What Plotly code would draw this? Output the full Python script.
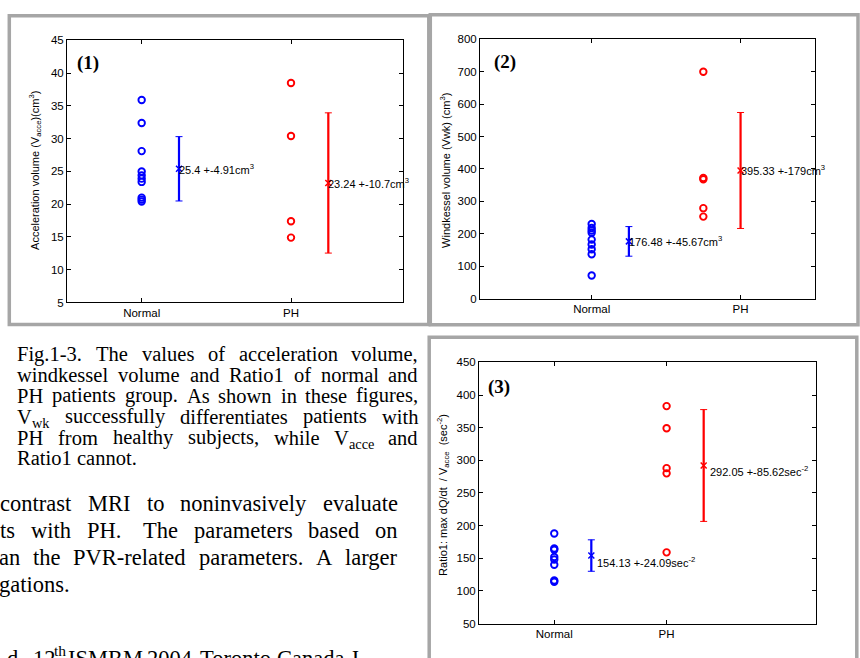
import re
import plotly.graph_objects as go

W, H = 860, 658

# ---------------- data ----------------
groups = ["Normal", "PH"]

# (1) Acceleration volume (cm^3)
acc_normal = [35.9, 32.4, 28.1, 25.0, 24.4, 23.9, 23.4, 21.0, 20.7, 20.4]
acc_ph = [38.5, 30.4, 17.4, 14.9]
acc_mean = [25.4, 23.24]
acc_sd = [4.91, 10.7]
acc_label = ["25.4 +-4.91cm<sup>3</sup>", "23.24 +-10.7cm<sup>3</sup>"]

# (2) Windkessel volume (cm^3)
wk_normal = [230, 218, 210, 203, 182, 167, 152, 137, 71]
wk_ph = [700, 372, 368, 279, 253]
wk_mean = [176.48, 395.33]
wk_sd = [45.67, 179]
wk_label = ["176.48 +-45.67cm<sup>3</sup>", "395.33 +-179cm<sup>3</sup>"]

# (3) Ratio1 (sec^-2)
r1_normal = [188, 165, 163, 152, 148, 140, 116, 114]
r1_ph = [383, 349, 288, 280, 159]
r1_mean = [154.13, 292.05]
r1_sd = [24.09, 85.62]
r1_label = ["154.13 +-24.09sec<sup>-2</sup>", "292.05 +-85.62sec<sup>-2</sup>"]

caption_lines = [
    "Fig.1-3. The values of acceleration volume,",
    "windkessel volume and Ratio1 of normal and",
    "PH patients group. As shown in these figures,",
    "V_wk successfully differentiates patients with",
    "PH from healthy subjects, while V_acce and",
    "Ratio1 cannot.",
]
body_lines = [
    "contrast MRI to noninvasively evaluate",
    "ts with PH.  The parameters based on",
    "an the PVR-related parameters. A larger",
    "gations.",
]

# ---------------- helpers ----------------
def px(x):
    return x / W


def py(y):
    return 1 - y / H


TW = {' ': 250, '(': 333, ')': 333, ',': 250, '-': 333, '.': 250, ':': 278,
      'A': 722, 'B': 667, 'C': 667, 'D': 722, 'E': 611, 'F': 556, 'G': 722, 'H': 722,
      'I': 333, 'J': 389, 'K': 722, 'L': 611, 'M': 889, 'N': 722, 'O': 722, 'P': 556,
      'Q': 722, 'R': 667, 'S': 556, 'T': 611, 'U': 722, 'V': 722, 'W': 944, 'X': 722,
      'Y': 722, 'Z': 611,
      'a': 444, 'b': 500, 'c': 444, 'd': 500, 'e': 444, 'f': 333, 'g': 500, 'h': 500,
      'i': 278, 'j': 278, 'k': 500, 'l': 278, 'm': 778, 'n': 500, 'o': 500, 'p': 500,
      'q': 500, 'r': 333, 's': 389, 't': 278, 'u': 500, 'v': 500, 'w': 722, 'x': 500,
      'y': 500, 'z': 444}


def tw(s, fs):
    return sum(TW.get(c, 500) for c in s) / 1000 * fs


def word_width(w, fs):
    if "_" in w:
        b, s = w.split("_")
        return tw(b, fs) + tw(s, fs * 0.7)
    return tw(w, fs)


SERIF = "Liberation Serif, Times New Roman, serif"
SANS = "Arial, Liberation Sans, sans-serif"

annotations = []


def text_at(x, y, text, fs, family=SERIF, xanchor="left", yshift=0):
    annotations.append(dict(x=px(x), y=py(y), xref="paper", yref="paper", text=text,
                            showarrow=False, xanchor=xanchor, yanchor="middle",
                            borderpad=0, borderwidth=0, yshift=yshift,
                            font=dict(family=family, size=fs, color="black")))


def put_word(x, y, w, fs, xanchor="left"):
    if "_" in w:
        b, s = w.split("_")
        if xanchor == "right":
            x = x - word_width(w, fs)
        text_at(x, y, b, fs)
        text_at(x + tw(b, fs), y, s, fs * 0.7, yshift=-0.31 * fs)
    else:
        text_at(x, y, w, fs, xanchor=xanchor)


def set_line(line, left, right, y, fs, justify):
    parts = re.split(r"( +)", line)
    words = parts[0::2]
    gaps = parts[1::2]
    if not justify or len(words) == 1:
        x = left
        for i, w in enumerate(words):
            put_word(x, y, w, fs)
            if i < len(gaps):
                x += word_width(w, fs) + tw(gaps[i], fs)
        return
    nat = sum(word_width(w, fs) for w in words) + sum(tw(g, fs) for g in gaps)
    extra = (right - left - nat) / len(gaps)
    x = left
    for i, w in enumerate(words):
        if i == len(words) - 1:
            put_word(right, y, w, fs, xanchor="right")
        else:
            put_word(x, y, w, fs)
            x += word_width(w, fs) + tw(gaps[i], fs) + extra


# ---------------- figure ----------------
fig = go.Figure()


def axis(domain_px, rng, horizontal, **kw):
    if horizontal:
        dom = [px(domain_px[0]), px(domain_px[1])]
    else:
        dom = [py(domain_px[1]), py(domain_px[0])]
    return dict(domain=dom, range=rng, showline=True, linecolor="black", linewidth=1,
                mirror="ticks", ticks="inside", ticklen=4, tickwidth=1, tickcolor="black",
                showgrid=False, zeroline=False, fixedrange=True,
                tickfont=dict(family=SANS, size=11.5, color="black"), **kw)


panels = [
    dict(xa="x", ya="y", xpx=(67, 403), ypx=(35, 302), xr=[0.5, 2.75], yr=[5, 45], dt=5,
         pts=[1, 2], err=[1.25, 2.25], normal=acc_normal, ph=acc_ph, mean=acc_mean,
         sd=acc_sd, lab=acc_label, shift=(0, 0)),
    dict(xa="x2", ya="y2", xpx=(480, 815), ypx=(34, 298), xr=[0.25, 2.5], yr=[0, 800], dt=100,
         pts=[1, 1.75], err=[1.25, 2.0], normal=wk_normal, ph=wk_ph, mean=wk_mean,
         sd=wk_sd, lab=wk_label, shift=(0, 0)),
    dict(xa="x3", ya="y3", xpx=(479, 816), ypx=(363, 629), xr=[0.33, 3.33], yr=[50, 450], dt=50,
         pts=[1, 2], err=[1.33, 2.33], normal=r1_normal, ph=r1_ph, mean=r1_mean,
         sd=r1_sd, lab=r1_label, shift=(6, -6)),
]

colors = ["#0000ff", "#ff0000"]
layout_axes = {}
for i, p in enumerate(panels):
    n = "" if i == 0 else str(i + 1)
    layout_axes["xaxis" + n] = axis(p["xpx"], p["xr"], True, anchor=p["ya"],
                                   tickvals=[1, 2], ticktext=groups)
    layout_axes["yaxis" + n] = axis(p["ypx"], p["yr"], False, anchor=p["xa"],
                                   tick0=0, dtick=p["dt"])
    for vals, xp, col in zip([p["normal"], p["ph"]], p["pts"], colors):
        fig.add_trace(go.Scatter(x=[xp] * len(vals), y=vals, mode="markers",
                                 xaxis=p["xa"], yaxis=p["ya"], showlegend=False,
                                 hoverinfo="skip",
                                 marker=dict(symbol="circle-open", size=6.5, color=col,
                                             line=dict(width=1.9, color=col))))
    for m, s, xe, col, lab in zip(p["mean"], p["sd"], p["err"], colors, p["lab"]):
        fig.add_trace(go.Scatter(x=[xe, xe], y=[m - s, m + s], mode="lines",
                                 xaxis=p["xa"], yaxis=p["ya"], showlegend=False,
                                 hoverinfo="skip", line=dict(color=col, width=2.2)))
        fig.add_trace(go.Scatter(x=[xe], y=[m], mode="markers", xaxis=p["xa"], yaxis=p["ya"],
                                 showlegend=False, hoverinfo="skip",
                                 marker=dict(symbol="x-thin", size=6, color=col,
                                             line=dict(width=1.5, color=col)),
                                 error_y=dict(type="data", array=[s], visible=True,
                                              thickness=1, width=3.5, color=col)))
        annotations.append(dict(x=xe, y=m, xref=p["xa"], yref=p["ya"], text=lab,
                                showarrow=False, xanchor="left", yanchor="middle",
                                borderpad=0, borderwidth=0,
                                xshift=p["shift"][0], yshift=p["shift"][1],
                                font=dict(family=SANS, size=11, color="black")))

# y-axis titles
for (x, y, t) in [
    (35, 168, "Acceleration volume (V<sub>acce</sub>)(cm<sup>3</sup>)"),
    (445, 168, "Windkessel volume (Vwk) (cm<sup>3</sup>)"),
    (443, 498, "Ratio1: max dQ/dt  / V<sub>acce</sub>  (sec<sup>-2</sup>)"),
]:
    annotations.append(dict(x=px(x), y=py(y), xref="paper", yref="paper", text=t,
                            textangle=-90, showarrow=False, xanchor="center",
                            yanchor="middle", font=dict(family=SANS, size=11, color="black")))

# panel numbers
for (x, y, t) in [(77, 58.5, "(1)"), (494, 57.5, "(2)"), (488, 388.5, "(3)")]:
    text_at(x, y, "<b>" + t + "</b>", 19)

# caption (justified)
for k, line in enumerate(caption_lines):
    set_line(line, 17.3, 418.3, 354.8 + 21.2 * k, 20.5, k < len(caption_lines) - 1)

# body text (cut on the left, justified)
body_left = [0, 0, -1.5, -1]
for k, line in enumerate(body_lines):
    set_line(line, body_left[k], 398, 506.7 + 27.5 * k, 22.5, k < len(body_lines) - 1)

# reference line at the bottom (mostly cut off)
for (x, t) in [(7, "d."), (33, "12"), (68, "ISMRM"), (147, "2004,"), (200, "Toronto,"),
               (277, "Canada,"), (350, "J")]:
    text_at(x, 665, t, 22.5)
text_at(53.5, 665, "th", 15.5, yshift=8)

# grey frames
frame = dict(type="rect", xref="paper", yref="paper", line=dict(color="#a6a6a6", width=3.5),
             fillcolor="rgba(0,0,0,0)", layer="above")
shapes = [
    dict(frame, x0=px(9.3), x1=px(428.8), y0=py(10), y1=py(324.5)),
    dict(frame, x0=px(430.3), x1=px(858), y0=py(9), y1=py(324.7)),
    dict(frame, x0=px(429.2), x1=px(856.8), y0=py(337.5), y1=py(680)),
]

fig.update_layout(
    width=W, height=H, autosize=False,
    margin=dict(l=0, r=0, t=0, b=0, pad=0),
    paper_bgcolor="white", plot_bgcolor="white",
    showlegend=False, annotations=annotations, shapes=shapes,
    **layout_axes,
)

fig.write_html("out.html", config={"displayModeBar": False},
               post_script="document.body.style.margin='0';document.body.style.overflow='hidden';")
